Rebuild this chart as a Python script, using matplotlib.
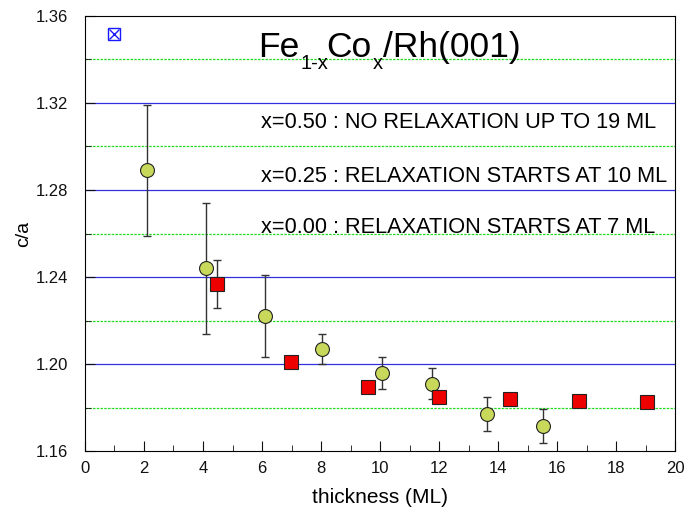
import matplotlib
matplotlib.use("Agg")
import matplotlib.pyplot as plt
from matplotlib.ticker import MultipleLocator

plt.rcParams['font.family'] = ['Liberation Sans', 'DejaVu Sans']

# x = 0.25 (green circles)
x_g = [2.1, 4.1, 6.1, 8.03, 10.06, 11.77, 13.62, 15.51]
y_g = [1.289, 1.244, 1.222, 1.207, 1.196, 1.191, 1.177, 1.1715]
e_g = [0.030, 0.030, 0.019, 0.007, 0.0073, 0.0073, 0.0077, 0.0077]

# x = 0.00 (red squares)
x_r = [4.48, 6.98, 9.6, 12.01, 14.4, 16.73, 19.05]
y_r = [1.2366, 1.2011, 1.1894, 1.1848, 1.1837, 1.1829, 1.1826]
e_r = [0.011, 0.001, 0.001, 0.002, 0.0, 0.0, 0.0]

# x = 0.50 (blue marker)
x_b = [0.98]
y_b = [1.3517]

blue_lines = [1.20, 1.24, 1.28, 1.32]
green_lines = [1.18, 1.22, 1.26, 1.30, 1.34]

notes = ["x=0.50 : NO RELAXATION UP TO 19 ML",
         "x=0.25 : RELAXATION STARTS AT 10 ML",
         "x=0.00 : RELAXATION STARTS AT 7 ML"]
note_y = [1.3087, 1.2835, 1.2603]

title_parts = [("Fe", False), ("1-x", True), ("Co", False), ("x", True), ("/Rh(001)", False)]
title_pos = (5.86, 1.3412)

W, H, DPI = 6.86, 5.11, 100
fig = plt.figure(figsize=(W, H), dpi=DPI)
ax = fig.add_axes([0.1239, 0.1174, 0.8601, 0.8513])

for v in blue_lines:
    ax.axhline(v, color='#3030e0', lw=0.9, zorder=1)
for v in green_lines:
    ax.axhline(v, color='#22dd22', lw=0.9, ls=(0, (2, 1)), zorder=1)

ax.errorbar(x_g, y_g, yerr=e_g, fmt='none', ecolor='#333333', elinewidth=1,
            capsize=3, capthick=1, zorder=2)
ax.plot(x_g, y_g, 'o', ms=10, mfc='#c8d85a', mec='#222222', mew=0.8, zorder=3)

ax.errorbar(x_r, y_r, yerr=e_r, fmt='none', ecolor='#333333', elinewidth=1,
            capsize=3, capthick=1, zorder=2)
ax.plot(x_r, y_r, 's', ms=9.5, mfc='#ee0000', mec='#222222', mew=0.8, zorder=3)

ax.plot(x_b, y_b, 's', ms=8, mfc='none', mec='#1a1aff', mew=1, zorder=3)
ax.plot(x_b, y_b, 'x', ms=7, mec='#1a1aff', mew=1, zorder=3)

ax.set_xlim(0, 20)
ax.set_ylim(1.16, 1.36)
ax.xaxis.set_major_locator(MultipleLocator(2))
ax.xaxis.set_minor_locator(MultipleLocator(1))
ax.yaxis.set_major_locator(MultipleLocator(0.04))
ax.yaxis.set_minor_locator(MultipleLocator(0.02))
ax.yaxis.set_major_formatter(plt.FormatStrFormatter('%.2f'))
ax.tick_params(which='both', direction='in', top=False, right=False,
               labelsize=12, colors='#111111')
ax.tick_params(which='major', length=7)
ax.tick_params(which='minor', length=4)
ax.tick_params(axis='x', pad=7)
ax.tick_params(axis='y', pad=12)

ax.set_xlabel('thickness (ML)', fontsize=15, labelpad=9)
ax.set_ylabel('c/a', fontsize=14, labelpad=2.5)

for t, yy in zip(notes, note_y):
    ax.text(5.95, yy, t, fontsize=15.7, ha='left', va='baseline')

# title built from pieces with large, lowered subscripts
fig.canvas.draw()
renderer = fig.canvas.get_renderer()
px, py = ax.transData.transform(title_pos)
for i, (txt, sub) in enumerate(title_parts):
    size = 14.5 if sub else 25.5
    yy = py - 12 if sub else py
    t = fig.text(px / (W * DPI), yy / (H * DPI), txt, fontsize=size,
                 ha='left', va='baseline')
    ext = t.get_window_extent(renderer)
    px += ext.width + (-2 if (sub and i == 1) else 1)

fig.savefig('out.png', dpi=DPI)
